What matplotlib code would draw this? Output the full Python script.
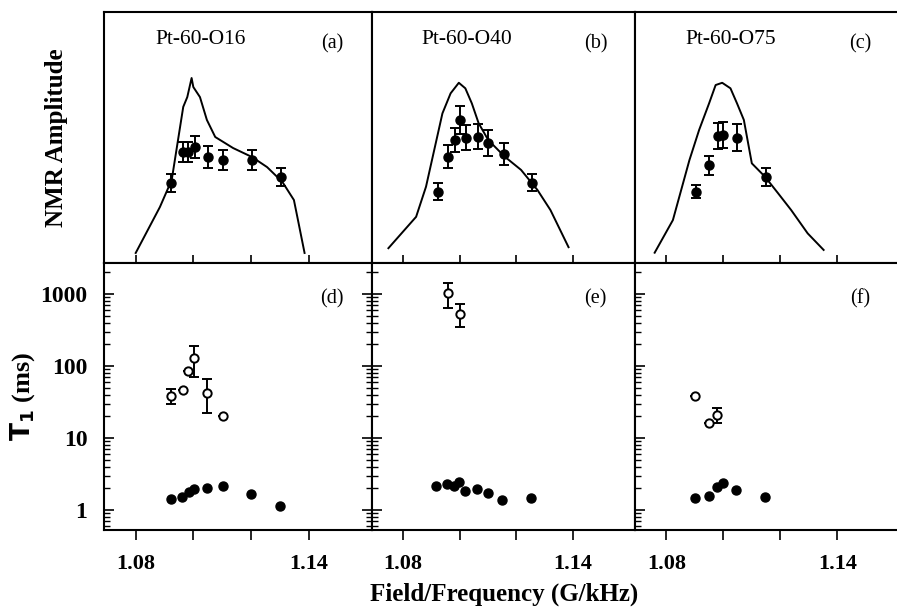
import matplotlib.pyplot as plt
import numpy as np

plt.rcParams['font.family'] = ['Liberation Serif', 'DejaVu Serif']

# Panel names
muestras = ["Pt-60-O16", "Pt-60-O40", "Pt-60-O75"]
letras_arriba = ["(a)", "(b)", "(c)"]
letras_abajo = ["(d)", "(e)", "(f)"]

# --- Espectros NMR (curva calculada) ---
curva_x = [
    [1.0800, 1.0884, 1.0925, 1.0965, 1.0979, 1.0994, 1.1000, 1.1023, 1.1047, 1.1076,
     1.1138, 1.1204, 1.1256, 1.1309, 1.1349, 1.1361, 1.1386],
    [1.0748, 1.0846, 1.0881, 1.0910, 1.0939, 1.0968, 1.0997, 1.1020, 1.1043, 1.1067,
     1.1101, 1.1159, 1.1217, 1.1275, 1.1321, 1.1385],
    [1.0759, 1.0823, 1.0881, 1.0915, 1.0950, 1.0973, 1.0996, 1.1025, 1.1048, 1.1072,
     1.1100, 1.1146, 1.1192, 1.1238, 1.1296, 1.1352],
]
curva_y = [
    [0.040, 0.223, 0.331, 0.622, 0.661, 0.737, 0.701, 0.661, 0.570, 0.502,
     0.458, 0.422, 0.382, 0.323, 0.251, 0.183, 0.040],
    [0.059, 0.184, 0.304, 0.450, 0.596, 0.676, 0.718, 0.696, 0.636, 0.557,
     0.490, 0.424, 0.371, 0.291, 0.211, 0.063],
    [0.041, 0.171, 0.410, 0.530, 0.636, 0.709, 0.718, 0.696, 0.636, 0.570,
     0.397, 0.344, 0.278, 0.211, 0.118, 0.052],
]

# --- Amplitud medida ---
amp_x = [
    [1.0922, 1.0965, 1.0982, 1.1006, 1.1052, 1.1104, 1.1204, 1.1305],
    [1.0925, 1.0960, 1.0985, 1.1000, 1.1023, 1.1064, 1.1101, 1.1156, 1.1256],
    [1.0904, 1.0950, 1.0982, 1.0999, 1.1048, 1.1150],
]
amp_y = [
    [0.318, 0.443, 0.443, 0.463, 0.424, 0.410, 0.410, 0.341],
    [0.284, 0.424, 0.490, 0.570, 0.499, 0.503, 0.477, 0.434, 0.320],
    [0.284, 0.390, 0.506, 0.510, 0.499, 0.344],
]
amp_err = [
    [0.036, 0.040, 0.040, 0.044, 0.044, 0.040, 0.040, 0.036],
    [0.033, 0.046, 0.048, 0.056, 0.050, 0.050, 0.052, 0.044, 0.035],
    [0.027, 0.038, 0.053, 0.053, 0.053, 0.036],
]

# --- T1 componente rapida (puntos llenos) ---
t1r_x = [
    [1.0921, 1.0959, 1.0986, 1.1002, 1.1049, 1.1102, 1.1200, 1.1302],
    [1.0918, 1.0956, 1.0980, 1.0999, 1.1020, 1.1061, 1.1099, 1.1150, 1.1254],
    [1.0900, 1.0948, 1.0979, 1.0998, 1.1046, 1.1146],
]
t1r_y = [
    [1.41, 1.50, 1.80, 1.94, 2.04, 2.15, 1.67, 1.14],
    [2.15, 2.30, 2.15, 2.42, 1.85, 1.94, 1.70, 1.38, 1.48],
    [1.48, 1.58, 2.07, 2.35, 1.90, 1.53],
]

# --- T1 componente lenta (puntos abiertos) ---
t1l_x = [
    [1.0921, 1.0963, 1.0982, 1.1002, 1.1049, 1.1102],
    [1.0960, 1.1000],
    [1.0900, 1.0948, 1.0979],
]
t1l_y = [
    [38, 47, 86, 128, 42.5, 20.4],
    [1020, 527],
    [38, 16, 20.9],
]
t1l_bajo = [
    [30, 47, 86, 71, 22.5, 20.4],
    [633, 345],
    [38, 16, 16],
]
t1l_alto = [
    [48, 47, 86, 190, 65, 20.4],
    [1435, 720],
    [38, 16, 25.8],
]

W, H = 897, 610
columnas = [(104, 372), (372, 635), (635, 900)]
fila_arriba = (12, 263)
fila_abajo = (263, 530)


def caja(col, fila):
    x0, x1 = col
    y0, y1 = fila
    return [x0 / W, 1 - y1 / H, (x1 - x0) / W, (y1 - y0) / H]


fig = plt.figure(figsize=(W / 100, H / 100), dpi=100)

xlim = (1.069, 1.162)
ticks_x = [1.08, 1.10, 1.12, 1.14]

for i in range(3):
    # Fila de arriba: amplitud
    ax = fig.add_axes(caja(columnas[i], fila_arriba))
    ax.plot(curva_x[i], curva_y[i], color='black', lw=1.4)
    ax.errorbar(amp_x[i], amp_y[i], yerr=amp_err[i], fmt='o', color='black',
                ms=6.5, elinewidth=1.4, capsize=3.5, capthick=1.4)
    ax.set_xlim(xlim)
    ax.set_ylim(0, 1)
    ax.set_xticks(ticks_x)
    ax.set_xticklabels([])
    ax.set_yticks([])
    ax.tick_params(axis='x', direction='in', length=6, width=1.2)
    ax.text(0.36, 0.89, muestras[i], transform=ax.transAxes, fontsize=15.5,
            ha='center', va='center')
    ax.text(0.85, 0.875, letras_arriba[i], transform=ax.transAxes, fontsize=14.5,
            ha='center', va='center')
    for s in ax.spines.values():
        s.set_linewidth(1.5)
    if i == 2:
        ax.spines['right'].set_visible(False)
    if i == 0:
        ax.set_ylabel("NMR Amplitude", fontsize=18, fontweight='bold', labelpad=26)

    # Fila de abajo: T1
    bx = fig.add_axes(caja(columnas[i], fila_abajo))
    bx.set_yscale('log')
    bx.plot(t1r_x[i], t1r_y[i], 'o', color='black', ms=6.5)
    yl = np.array(t1l_y[i])
    err = [yl - np.array(t1l_bajo[i]), np.array(t1l_alto[i]) - yl]
    bx.errorbar(t1l_x[i], yl, yerr=err, fmt='o', mfc='white', mec='black',
                mew=1.4, color='black', ms=6, elinewidth=1.4, capsize=3.5, capthick=1.4)
    bx.set_xlim(xlim)
    bx.set_ylim(0.527, 2700)
    bx.set_xticks(ticks_x)
    bx.set_xticklabels(["1.08", "", "", "1.14"])
    bx.tick_params(axis='x', direction='out', length=7, width=1.2, pad=10)
    bx.tick_params(axis='y', which='major', direction='in', length=7, width=1.2, pad=12)
    bx.tick_params(axis='y', which='minor', direction='in', length=4, width=1.0)
    for lab in bx.get_xticklabels():
        lab.set_fontsize(16)
        lab.set_fontweight('bold')
    bx.text(0.85, 0.865, letras_abajo[i], transform=bx.transAxes, fontsize=14.5,
            ha='center', va='center')
    for s in bx.spines.values():
        s.set_linewidth(1.5)
    if i == 2:
        bx.spines['right'].set_visible(False)
    bx.set_yticks([1, 10, 100, 1000])
    if i == 0:
        bx.set_yticklabels(["1", "10", "100", "1000"], fontsize=17, fontweight='bold')
        bx.tick_params(axis='y', which='both', right=True)
        bx.set_ylabel(r"$\mathbf{T_1}$ (ms)", fontsize=19, fontweight='bold', labelpad=2)
    else:
        bx.set_yticklabels([])
        bx.tick_params(axis='y', which='minor', labelleft=False)

fig.text(504 / W, 1 - 594 / H, "Field/Frequency (G/kHz)", fontsize=18,
         fontweight='bold', ha='center', va='center')

fig.savefig("out.png", dpi=100)
